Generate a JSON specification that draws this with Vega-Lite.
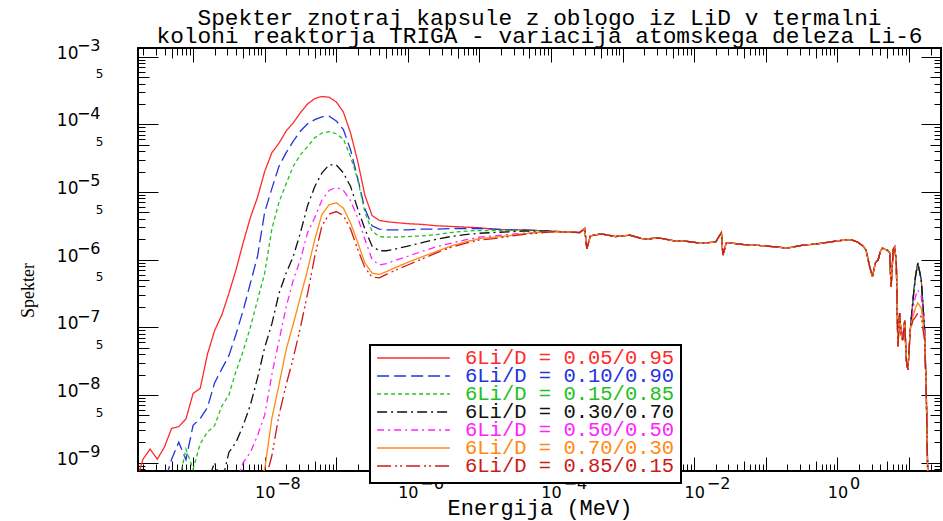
{
"$schema": "https://vega.github.io/schema/vega-lite/v6.json",
"width": 803, "height": 423,
"autosize": {"type": "none"},
"padding": {"left": 138, "top": 48, "right": 2, "bottom": 50},
"background": "white",
"title": {"text": ["Spekter znotraj kapsule z oblogo iz LiD v termalni", "koloni reaktorja TRIGA - variacija atomskega deleza Li-6"], "font": "Liberation Mono", "fontSize": 22.8, "fontWeight": "normal", "lineHeight": 18, "color": "black", "anchor": "middle", "offset": -10},
"config": {"view": {"stroke": "black", "strokeWidth": 2}, "axis": {"grid": false, "domain": false, "labelColor": "black", "tickColor": "black", "tickWidth": 1}},
"resolve": {"axis": {"x": "independent", "y": "independent"}},
"layer": [
{
"data": {"values": [
{"e":1.585e-10,"a":5e-10,"b":5e-10,"c":5e-10,"d":5e-10,"f":5e-10,"g":5e-10,"h":5e-10},
{"e":1.995e-10,"a":1.12e-9,"b":5e-10,"c":5e-10,"d":5e-10,"f":5e-10,"g":5e-10,"h":5e-10},
{"e":2.512e-10,"a":1.58e-9,"b":5e-10,"c":5e-10,"d":5e-10,"f":5e-10,"g":5e-10,"h":5e-10},
{"e":3.162e-10,"a":1.12e-9,"b":5e-10,"c":5e-10,"d":5e-10,"f":5e-10,"g":5e-10,"h":5e-10},
{"e":3.981e-10,"a":1.7e-9,"b":5e-10,"c":5e-10,"d":5e-10,"f":5e-10,"g":5e-10,"h":5e-10},
{"e":5.012e-10,"a":3.2e-9,"b":1.12e-9,"c":5e-10,"d":5e-10,"f":5e-10,"g":5e-10,"h":5e-10},
{"e":6.31e-10,"a":3.4e-9,"b":2e-9,"c":5e-10,"d":5e-10,"f":5e-10,"g":5e-10,"h":5e-10},
{"e":7.943e-10,"a":4.4e-9,"b":1.1e-9,"c":1.58e-9,"d":5e-10,"f":5e-10,"g":5e-10,"h":5e-10},
{"e":1e-9,"a":1.05e-8,"b":3.55e-9,"c":8e-10,"d":5e-10,"f":5e-10,"g":5e-10,"h":5e-10},
{"e":1.259e-9,"a":1.25e-8,"b":4.47e-9,"c":1.9e-9,"d":5e-10,"f":5e-10,"g":5e-10,"h":5e-10},
{"e":1.585e-9,"a":3.98e-8,"b":6.5e-9,"c":2.82e-9,"d":5e-10,"f":5e-10,"g":5e-10,"h":5e-10},
{"e":1.995e-9,"a":8.9e-8,"b":1.5e-8,"c":3.5e-9,"d":1e-9,"f":5e-10,"g":5e-10,"h":5e-10},
{"e":2.512e-9,"a":1.51e-7,"b":2.4e-8,"c":6.8e-9,"d":5e-10,"f":5e-10,"g":5e-10,"h":5e-10},
{"e":3.162e-9,"a":3.16e-7,"b":3.8e-8,"c":1e-8,"d":1.41e-9,"f":5e-10,"g":5e-10,"h":5e-10},
{"e":3.981e-9,"a":7.08e-7,"b":7.94e-8,"c":2.24e-8,"d":2e-9,"f":5e-10,"g":5e-10,"h":5e-10},
{"e":5.012e-9,"a":1.78e-6,"b":1.78e-7,"c":4.47e-8,"d":3.55e-9,"f":1e-9,"g":5e-10,"h":5e-10},
{"e":6.31e-9,"a":4.17e-6,"b":4.47e-7,"c":1e-7,"d":7.08e-9,"f":1.41e-9,"g":5e-10,"h":5e-10},
{"e":7.943e-9,"a":8.32e-6,"b":1.12e-6,"c":2.51e-7,"d":1.78e-8,"f":2.51e-9,"g":5e-10,"h":5e-10},
{"e":1e-8,"a":2e-5,"b":5.01e-6,"c":6.31e-7,"d":5.01e-8,"f":5.01e-9,"g":7.94e-10,"h":5e-10},
{"e":1.259e-8,"a":3.8e-5,"b":1.12e-5,"c":2.82e-6,"d":1.12e-7,"f":2e-8,"g":4.47e-9,"h":1.26e-9},
{"e":1.585e-8,"a":5.25e-5,"b":2.4e-5,"c":7.08e-6,"d":3.16e-7,"f":6.31e-8,"g":1.41e-8,"h":5.01e-9},
{"e":1.995e-8,"a":7.94e-5,"b":3.8e-5,"c":1.32e-5,"d":6.31e-7,"f":2e-7,"g":4.68e-8,"h":1.41e-8},
{"e":2.512e-8,"a":1.05e-4,"b":5.62e-5,"c":2.4e-5,"d":1.12e-6,"f":5.01e-7,"g":1.12e-7,"h":3.55e-8},
{"e":3.162e-8,"a":1.48e-4,"b":7.94e-5,"c":3.55e-5,"d":2.51e-6,"f":1e-6,"g":2.82e-7,"h":1e-7},
{"e":3.981e-8,"a":2e-4,"b":1.02e-4,"c":4.68e-5,"d":6.31e-6,"f":2.51e-6,"g":7.08e-7,"h":3.16e-7},
{"e":5.012e-8,"a":2.4e-4,"b":1.17e-4,"c":6.31e-5,"d":1.2e-5,"f":4.17e-6,"g":2e-6,"h":1.12e-6},
{"e":6.31e-8,"a":2.57e-4,"b":1.29e-4,"c":7.41e-5,"d":1.91e-5,"f":7.59e-6,"g":4.68e-6,"h":3.16e-6},
{"e":7.943e-8,"a":2.51e-4,"b":1.32e-4,"c":7.76e-5,"d":2.51e-5,"f":1.05e-5,"g":6.46e-6,"h":4.68e-6},
{"e":1e-7,"a":2.14e-4,"b":1.12e-4,"c":7.24e-5,"d":2.51e-5,"f":1.17e-5,"g":6.92e-6,"h":5.13e-6},
{"e":1.259e-7,"a":1.51e-4,"b":8.32e-5,"c":6.03e-5,"d":1.91e-5,"f":1.05e-5,"g":5.75e-6,"h":4.47e-6},
{"e":1.585e-7,"a":7.41e-5,"b":4.17e-5,"c":3.31e-5,"d":1.2e-5,"f":7.41e-6,"g":3.47e-6,"h":2.82e-6},
{"e":1.995e-7,"a":2.82e-5,"b":1.58e-5,"c":1.51e-5,"d":5.62e-6,"f":4.17e-6,"g":1.78e-6,"h":1.41e-6},
{"e":2.512e-7,"a":8.91e-6,"b":5.62e-6,"c":5.01e-6,"d":2.82e-6,"f":2e-6,"g":8.91e-7,"h":7.59e-7},
{"e":3.162e-7,"a":4.47e-6,"b":3.16e-6,"c":2.63e-6,"d":1.58e-6,"f":1e-6,"g":6.31e-7,"h":5.5e-7},
{"e":3.981e-7,"a":3.8e-6,"b":2.82e-6,"c":2.19e-6,"d":1.35e-6,"f":8.32e-7,"g":6.03e-7,"h":5.37e-7},
{"e":5.012e-7,"a":3.63e-6,"b":2.75e-6,"c":2.14e-6,"d":1.35e-6,"f":8.71e-7,"g":6.61e-7,"h":6.03e-7},
{"e":6.31e-7,"a":3.55e-6,"b":2.75e-6,"c":2.14e-6,"d":1.41e-6,"f":9.55e-7,"g":7.41e-7,"h":6.76e-7},
{"e":1e-6,"a":3.39e-6,"b":2.75e-6,"c":2.19e-6,"d":1.58e-6,"f":1.12e-6,"g":9.12e-7,"h":8.32e-7},
{"e":1.585e-6,"a":3.31e-6,"b":2.82e-6,"c":2.24e-6,"d":1.78e-6,"f":1.32e-6,"g":1.1e-6,"h":1.02e-6},
{"e":2.512e-6,"a":3.16e-6,"b":2.82e-6,"c":2.34e-6,"d":2e-6,"f":1.55e-6,"g":1.32e-6,"h":1.26e-6},
{"e":3.981e-6,"a":3.09e-6,"b":2.88e-6,"c":2.51e-6,"d":2.19e-6,"f":1.74e-6,"g":1.58e-6,"h":1.51e-6},
{"e":6.31e-6,"a":3.02e-6,"b":2.88e-6,"c":2.63e-6,"d":2.34e-6,"f":1.95e-6,"g":1.82e-6,"h":1.74e-6},
{"e":1e-5,"a":2.95e-6,"b":2.88e-6,"c":2.69e-6,"d":2.45e-6,"f":2.14e-6,"g":2.04e-6,"h":1.95e-6},
{"e":1.585e-5,"a":2.82e-6,"b":2.82e-6,"c":2.69e-6,"d":2.51e-6,"f":2.24e-6,"g":2.14e-6,"h":2.04e-6},
{"e":2.512e-5,"a":2.75e-6,"b":2.75e-6,"c":2.69e-6,"d":2.57e-6,"f":2.34e-6,"g":2.24e-6,"h":2.19e-6},
{"e":3.981e-5,"a":2.75e-6,"b":2.75e-6,"c":2.69e-6,"d":2.63e-6,"f":2.45e-6,"g":2.4e-6,"h":2.34e-6},
{"e":6.31e-5,"a":2.69e-6,"b":2.69e-6,"c":2.69e-6,"d":2.63e-6,"f":2.51e-6,"g":2.51e-6,"h":2.45e-6},
{"e":1e-4,"a":2.63e-6,"b":2.63e-6,"c":2.63e-6,"d":2.63e-6,"f":2.57e-6,"g":2.57e-6,"h":2.57e-6},
{"e":1.585e-4,"a":2.57e-6,"b":2.57e-6,"c":2.57e-6,"d":2.57e-6,"f":2.57e-6,"g":2.57e-6,"h":2.57e-6},
{"e":2.512e-4,"a":2.51e-6,"b":2.51e-6,"c":2.51e-6,"d":2.51e-6,"f":2.51e-6,"g":2.51e-6,"h":2.51e-6},
{"e":2.951e-4,"a":2.88e-6,"b":2.88e-6,"c":2.88e-6,"d":2.88e-6,"f":2.88e-6,"g":2.88e-6,"h":2.88e-6},
{"e":3.162e-4,"a":1.45e-6,"b":1.45e-6,"c":1.45e-6,"d":1.45e-6,"f":1.45e-6,"g":1.45e-6,"h":1.45e-6},
{"e":3.548e-4,"a":2.24e-6,"b":2.24e-6,"c":2.24e-6,"d":2.24e-6,"f":2.24e-6,"g":2.24e-6,"h":2.24e-6},
{"e":5.012e-4,"a":2.4e-6,"b":2.4e-6,"c":2.4e-6,"d":2.4e-6,"f":2.4e-6,"g":2.4e-6,"h":2.4e-6},
{"e":7.943e-4,"a":2.19e-6,"b":2.19e-6,"c":2.19e-6,"d":2.19e-6,"f":2.19e-6,"g":2.19e-6,"h":2.19e-6},
{"e":1.259e-3,"a":2.29e-6,"b":2.29e-6,"c":2.29e-6,"d":2.29e-6,"f":2.29e-6,"g":2.29e-6,"h":2.29e-6},
{"e":1.995e-3,"a":2e-6,"b":2e-6,"c":2e-6,"d":2e-6,"f":2e-6,"g":2e-6,"h":2e-6},
{"e":3.162e-3,"a":2.09e-6,"b":2.09e-6,"c":2.09e-6,"d":2.09e-6,"f":2.09e-6,"g":2.09e-6,"h":2.09e-6},
{"e":5.012e-3,"a":1.91e-6,"b":1.91e-6,"c":1.91e-6,"d":1.91e-6,"f":1.91e-6,"g":1.91e-6,"h":1.91e-6},
{"e":7.943e-3,"a":1.86e-6,"b":1.86e-6,"c":1.86e-6,"d":1.86e-6,"f":1.86e-6,"g":1.86e-6,"h":1.86e-6},
{"e":1.259e-2,"a":1.74e-6,"b":1.74e-6,"c":1.74e-6,"d":1.74e-6,"f":1.74e-6,"g":1.74e-6,"h":1.74e-6},
{"e":1.995e-2,"a":1.82e-6,"b":1.82e-6,"c":1.82e-6,"d":1.82e-6,"f":1.82e-6,"g":1.82e-6,"h":1.82e-6},
{"e":2.399e-2,"a":2.51e-6,"b":2.51e-6,"c":2.51e-6,"d":2.51e-6,"f":2.51e-6,"g":2.51e-6,"h":2.51e-6},
{"e":2.512e-2,"a":1.17e-6,"b":1.17e-6,"c":1.17e-6,"d":1.17e-6,"f":1.17e-6,"g":1.17e-6,"h":1.17e-6},
{"e":2.818e-2,"a":1.78e-6,"b":1.78e-6,"c":1.78e-6,"d":1.78e-6,"f":1.78e-6,"g":1.78e-6,"h":1.78e-6},
{"e":3.548e-2,"a":1.74e-6,"b":1.74e-6,"c":1.74e-6,"d":1.74e-6,"f":1.74e-6,"g":1.74e-6,"h":1.74e-6},
{"e":5.012e-2,"a":1.66e-6,"b":1.66e-6,"c":1.66e-6,"d":1.66e-6,"f":1.66e-6,"g":1.66e-6,"h":1.66e-6},
{"e":7.943e-2,"a":1.62e-6,"b":1.62e-6,"c":1.62e-6,"d":1.62e-6,"f":1.62e-6,"g":1.62e-6,"h":1.62e-6},
{"e":0.1259,"a":1.55e-6,"b":1.55e-6,"c":1.55e-6,"d":1.55e-6,"f":1.55e-6,"g":1.55e-6,"h":1.55e-6},
{"e":0.1995,"a":1.48e-6,"b":1.48e-6,"c":1.48e-6,"d":1.48e-6,"f":1.48e-6,"g":1.48e-6,"h":1.48e-6},
{"e":0.3162,"a":1.62e-6,"b":1.62e-6,"c":1.62e-6,"d":1.62e-6,"f":1.62e-6,"g":1.62e-6,"h":1.62e-6},
{"e":0.5012,"a":1.7e-6,"b":1.7e-6,"c":1.7e-6,"d":1.7e-6,"f":1.7e-6,"g":1.7e-6,"h":1.7e-6},
{"e":0.7943,"a":1.82e-6,"b":1.82e-6,"c":1.82e-6,"d":1.82e-6,"f":1.82e-6,"g":1.82e-6,"h":1.82e-6},
{"e":1.259,"a":1.95e-6,"b":1.95e-6,"c":1.95e-6,"d":1.95e-6,"f":1.95e-6,"g":1.95e-6,"h":1.95e-6},
{"e":1.585,"a":1.95e-6,"b":1.95e-6,"c":1.95e-6,"d":1.95e-6,"f":1.95e-6,"g":1.95e-6,"h":1.95e-6},
{"e":1.905,"a":1.82e-6,"b":1.82e-6,"c":1.82e-6,"d":1.82e-6,"f":1.82e-6,"g":1.82e-6,"h":1.82e-6},
{"e":2.291,"a":1.58e-6,"b":1.58e-6,"c":1.58e-6,"d":1.58e-6,"f":1.58e-6,"g":1.58e-6,"h":1.58e-6},
{"e":2.512,"a":1.38e-6,"b":1.38e-6,"c":1.38e-6,"d":1.38e-6,"f":1.38e-6,"g":1.38e-6,"h":1.38e-6},
{"e":2.818,"a":7.94e-7,"b":7.94e-7,"c":7.94e-7,"d":7.94e-7,"f":7.94e-7,"g":7.94e-7,"h":7.94e-7},
{"e":3.09,"a":5.62e-7,"b":5.62e-7,"c":5.62e-7,"d":5.62e-7,"f":5.62e-7,"g":5.62e-7,"h":5.62e-7},
{"e":3.388,"a":8.91e-7,"b":8.91e-7,"c":8.91e-7,"d":8.91e-7,"f":8.91e-7,"g":8.91e-7,"h":8.91e-7},
{"e":3.715,"a":1e-6,"b":1e-6,"c":1e-6,"d":1e-6,"f":1e-6,"g":1e-6,"h":1e-6},
{"e":3.981,"a":1.32e-6,"b":1.32e-6,"c":1.32e-6,"d":1.32e-6,"f":1.32e-6,"g":1.32e-6,"h":1.32e-6},
{"e":4.266,"a":1.48e-6,"b":1.48e-6,"c":1.48e-6,"d":1.48e-6,"f":1.48e-6,"g":1.48e-6,"h":1.48e-6},
{"e":4.677,"a":1.41e-6,"b":1.41e-6,"c":1.41e-6,"d":1.41e-6,"f":1.41e-6,"g":1.41e-6,"h":1.41e-6},
{"e":5.012,"a":1.38e-6,"b":1.38e-6,"c":1.38e-6,"d":1.38e-6,"f":1.38e-6,"g":1.38e-6,"h":1.38e-6},
{"e":5.37,"a":1.26e-6,"b":1.26e-6,"c":1.26e-6,"d":1.26e-6,"f":1.26e-6,"g":1.26e-6,"h":1.26e-6},
{"e":5.623,"a":3.98e-7,"b":3.98e-7,"c":3.98e-7,"d":3.98e-7,"f":3.98e-7,"g":3.98e-7,"h":3.98e-7},
{"e":6.026,"a":1.41e-6,"b":1.41e-6,"c":1.41e-6,"d":1.41e-6,"f":1.41e-6,"g":1.41e-6,"h":1.41e-6},
{"e":6.31,"a":1.55e-6,"b":1.55e-6,"c":1.55e-6,"d":1.55e-6,"f":1.55e-6,"g":1.55e-6,"h":1.55e-6},
{"e":6.653,"a":8.91e-7,"b":8.91e-7,"c":8.91e-7,"d":8.91e-7,"f":8.91e-7,"g":8.91e-7,"h":8.91e-7},
{"e":7.0,"a":5.13e-8,"b":5.13e-8,"c":5.13e-8,"d":5.13e-8,"f":5.13e-8,"g":5.13e-8,"h":5.13e-8},
{"e":7.396,"a":1.62e-7,"b":1.62e-7,"c":1.62e-7,"d":1.62e-7,"f":1.62e-7,"g":1.62e-7,"h":1.62e-7},
{"e":7.762,"a":7.94e-8,"b":7.94e-8,"c":7.94e-8,"d":7.94e-8,"f":7.94e-8,"g":7.94e-8,"h":7.94e-8},
{"e":8.147,"a":6.46e-8,"b":6.46e-8,"c":6.46e-8,"d":6.46e-8,"f":6.46e-8,"g":6.46e-8,"h":6.46e-8},
{"e":8.71,"a":1.26e-7,"b":1.26e-7,"c":1.26e-7,"d":1.26e-7,"f":1.26e-7,"g":1.26e-7,"h":1.26e-7},
{"e":9.162,"a":3.31e-8,"b":3.31e-8,"c":3.31e-8,"d":3.31e-8,"f":3.31e-8,"g":3.31e-8,"h":3.31e-8},
{"e":9.661,"a":2.34e-8,"b":2.34e-8,"c":2.34e-8,"d":2.34e-8,"f":2.34e-8,"g":2.34e-8,"h":2.34e-8},
{"e":10.42,"a":9.12e-8,"b":9.12e-8,"c":9.12e-8,"d":9.12e-8,"f":9.12e-8,"g":9.12e-8,"h":9.12e-8},
{"e":11.35,"a":2.51e-7,"b":2.51e-7,"c":2.4e-7,"d":2.51e-7,"f":1.78e-7,"g":1.41e-7,"h":1.26e-7},
{"e":12.3,"a":5.62e-7,"b":5.62e-7,"c":5.25e-7,"d":5.62e-7,"f":2.82e-7,"g":1.91e-7,"h":1.41e-7},
{"e":13.3,"a":8.91e-7,"b":8.91e-7,"c":8.51e-7,"d":8.91e-7,"f":3.55e-7,"g":2.29e-7,"h":1.62e-7},
{"e":14.86,"a":5.01e-7,"b":5.01e-7,"c":4.79e-7,"d":5.01e-7,"f":2.82e-7,"g":1.91e-7,"h":1.41e-7},
{"e":16.52,"a":9.12e-8,"b":9.12e-8,"c":8.91e-8,"d":9.12e-8,"f":7.94e-8,"g":7.08e-8,"h":6.31e-8},
{"e":17.46,"a":1e-8,"b":1e-8,"c":1e-8,"d":1e-8,"f":1e-8,"g":1e-8,"h":1e-8},
{"e":18.37,"a":5e-10,"b":5e-10,"c":5e-10,"d":5e-10,"f":5e-10,"g":5e-10,"h":5e-10}
]},
"transform": [{"fold": ["a","b","c","d","f","g","h"], "as": ["k","v"]}],
"mark": {"type": "line", "clip": true},
"encoding": {
"x": {"field": "e", "type": "quantitative", "scale": {"type": "log", "domain": [1.7e-10, 28], "nice": false},
 "axis": {"orient": "bottom", "values": [1e-8, 1e-6, 1e-4, 1e-2, 1], "labelExpr": "'10'", "labelFont": "DejaVu Sans", "labelFontSize": 16, "labelAlign": "center", "labelBaseline": "middle", "labelPadding": 21, "ticks": false, "tickSize": 0, "labelOverlap": false, "labelFlush": false,
  "title": "Energija (MeV)", "titleFont": "Liberation Mono", "titleFontSize": 22, "titleFontWeight": "normal", "titleColor": "black", "titleY": 43, "titleBaseline": "alphabetic"}},
"y": {"field": "v", "type": "quantitative", "scale": {"type": "log", "domain": [7.5e-10, 1.34e-3], "nice": false},
 "axis": {"orient": "left", "values": [1e-9, 1e-8, 1e-7, 1e-6, 1e-5, 1e-4, 1e-3], "labelExpr": "'10'", "labelFont": "DejaVu Sans", "labelFontSize": 17, "labelAlign": "right", "labelBaseline": "middle", "labelPadding": 60, "labelOffset": -3.5, "ticks": false, "tickSize": 0, "labelOverlap": false, "labelFlush": false,
  "title": "Spekter", "titleFont": "Liberation Serif", "titleFontSize": 18, "titleFontWeight": "normal", "titleColor": "black", "titleX": -110, "titleY": 242, "titleAngle": -90, "titleAlign": "center", "titleBaseline": "middle"}},
"color": {"field": "k", "type": "nominal",
 "scale": {"domain": ["a","b","c","d","f","g","h"], "range": ["#ff2a2a", "#2233dd", "#22c022", "#111111", "#ff22ff", "#ff8a10", "#cc1a1a"]},
 "legend": {"title": null, "orient": "none", "legendX": 232, "legendY": 297, "padding": 6, "strokeColor": "black", "fillColor": "white", "cornerRadius": 0, "symbolType": "stroke", "symbolSize": 5300, "symbolStrokeWidth": 1.5, "clipHeight": 14, "rowPadding": -10, "labelFont": "Liberation Mono", "labelFontSize": 20.5, "labelOffset": 14, "labelLimit": 400,
  "labelExpr": "datum.label == 'a' ? '6Li/D = 0.05/0.95' : datum.label == 'b' ? '6Li/D = 0.10/0.90' : datum.label == 'c' ? '6Li/D = 0.15/0.85' : datum.label == 'd' ? '6Li/D = 0.30/0.70' : datum.label == 'f' ? '6Li/D = 0.50/0.50' : datum.label == 'g' ? '6Li/D = 0.70/0.30' : '6Li/D = 0.85/0.15'",
  "encode": {"legend": {"update": {"strokeWidth": {"value": 2}}}, "labels": {"update": {"fill": {"scale": "color", "field": "value"}}}}}},
"strokeDash": {"field": "k", "type": "nominal",
 "scale": {"domain": ["a","b","c","d","f","g","h"], "range": [[1,0], [12,5], [4,3], [10,4,2,4], [7,4,2,4], [1,0], [14,4,2,3,2,4]]},
 "legend": {"title": null, "orient": "none", "legendX": 232, "legendY": 297, "padding": 6, "strokeColor": "black", "fillColor": "white", "cornerRadius": 0, "symbolType": "stroke", "symbolSize": 5300, "symbolStrokeWidth": 1.5, "clipHeight": 14, "rowPadding": -10, "labelFont": "Liberation Mono", "labelFontSize": 20.5, "labelOffset": 14, "labelLimit": 400,
  "labelExpr": "datum.label == 'a' ? '6Li/D = 0.05/0.95' : datum.label == 'b' ? '6Li/D = 0.10/0.90' : datum.label == 'c' ? '6Li/D = 0.15/0.85' : datum.label == 'd' ? '6Li/D = 0.30/0.70' : datum.label == 'f' ? '6Li/D = 0.50/0.50' : datum.label == 'g' ? '6Li/D = 0.70/0.30' : '6Li/D = 0.85/0.15'",
  "encode": {"legend": {"update": {"strokeWidth": {"value": 2}}}, "labels": {"update": {"fill": {"scale": "color", "field": "value"}}}}}},
"strokeWidth": {"field": "k", "type": "ordinal", "scale": {"domain": ["a","b","c","d","f","g","h"], "range": [1.3, 1.3, 1.3, 1.3, 1.3, 2.2, 1.3]}, "legend": null}
}
},
{
"data": {"values": [{"e": 1e-6, "v": 1e-6}]},
"mark": {"type": "point", "opacity": 0},
"encoding": {
"x": {"field": "e", "type": "quantitative", "scale": {"type": "log"},
 "axis": {"orient": "bottom", "values": [1e-8, 1e-6, 1e-4, 1e-2, 1], "labelExpr": "datum.value >= 0.5 ? '0' : '−' + (-round(log(datum.value)/LN10))", "labelFont": "DejaVu Sans", "labelFontSize": 16, "labelAlign": "left", "labelBaseline": "middle", "labelPadding": 12, "labelOffset": 12, "ticks": false, "tickSize": 0, "labelOverlap": false, "labelFlush": false, "title": null}},
"y": {"field": "v", "type": "quantitative", "scale": {"type": "log"},
 "axis": {"orient": "left", "values": [1e-9, 1e-8, 1e-7, 1e-6, 1e-5, 1e-4, 1e-3], "labelExpr": "'−' + (-round(log(datum.value)/LN10))", "labelFont": "DejaVu Sans", "labelFontSize": 16, "labelAlign": "right", "labelBaseline": "middle", "labelPadding": 38, "labelOffset": -11, "ticks": false, "tickSize": 0, "labelOverlap": false, "labelFlush": false, "title": null}}
}
},
{
"data": {"values": [{"e": 1e-6, "v": 1e-6}]},
"mark": {"type": "point", "opacity": 0},
"encoding": {
"x": {"field": "e", "type": "quantitative", "scale": {"type": "log"},
 "axis": {"orient": "bottom", "values": [2e-10,3e-10,4e-10,5e-10,6e-10,7e-10,8e-10,9e-10,1e-9,2e-9,3e-9,4e-9,5e-9,6e-9,7e-9,8e-9,9e-9,1e-8,2e-8,3e-8,4e-8,5e-8,6e-8,7e-8,8e-8,9e-8,1e-7,2e-7,3e-7,4e-7,5e-7,6e-7,7e-7,8e-7,9e-7,1e-6,2e-6,3e-6,4e-6,5e-6,6e-6,7e-6,8e-6,9e-6,1e-5,2e-5,3e-5,4e-5,5e-5,6e-5,7e-5,8e-5,9e-5,1e-4,2e-4,3e-4,4e-4,5e-4,6e-4,7e-4,8e-4,9e-4,1e-3,2e-3,3e-3,4e-3,5e-3,6e-3,7e-3,8e-3,9e-3,1e-2,2e-2,3e-2,4e-2,5e-2,6e-2,7e-2,8e-2,9e-2,0.1,0.2,0.3,0.4,0.5,0.6,0.7,0.8,0.9,1,2,3,4,5,6,7,8,9,10,20],
  "labels": false, "ticks": true,
  "tickSize": {"condition": [{"test": "abs(log(datum.value)/LN10 - round(log(datum.value)/LN10)) < 0.01", "value": -14}, {"test": "abs(log(datum.value)/LN10 - floor(log(datum.value)/LN10) - 0.699) < 0.01", "value": -10}], "value": -7},
  "title": null}},
"y": {"field": "v", "type": "quantitative", "scale": {"type": "log"},
 "axis": {"orient": "left", "values": [5e-9, 5e-8, 5e-7, 5e-6, 5e-5, 5e-4], "labelExpr": "'5'", "labelFont": "DejaVu Sans", "labelFontSize": 12, "labelAlign": "right", "labelBaseline": "middle", "labelPadding": 35, "labelOffset": -3, "ticks": false, "tickSize": 0, "labelOverlap": false, "labelFlush": false, "title": null}}
}
},
{
"data": {"values": [{"e": 1e-6, "v": 1e-6}]},
"mark": {"type": "point", "opacity": 0},
"encoding": {
"x": {"field": "e", "type": "quantitative", "scale": {"type": "log"},
 "axis": {"orient": "top", "values": [2e-10,3e-10,4e-10,5e-10,6e-10,7e-10,8e-10,9e-10,1e-9,2e-9,3e-9,4e-9,5e-9,6e-9,7e-9,8e-9,9e-9,1e-8,2e-8,3e-8,4e-8,5e-8,6e-8,7e-8,8e-8,9e-8,1e-7,2e-7,3e-7,4e-7,5e-7,6e-7,7e-7,8e-7,9e-7,1e-6,2e-6,3e-6,4e-6,5e-6,6e-6,7e-6,8e-6,9e-6,1e-5,2e-5,3e-5,4e-5,5e-5,6e-5,7e-5,8e-5,9e-5,1e-4,2e-4,3e-4,4e-4,5e-4,6e-4,7e-4,8e-4,9e-4,1e-3,2e-3,3e-3,4e-3,5e-3,6e-3,7e-3,8e-3,9e-3,1e-2,2e-2,3e-2,4e-2,5e-2,6e-2,7e-2,8e-2,9e-2,0.1,0.2,0.3,0.4,0.5,0.6,0.7,0.8,0.9,1,2,3,4,5,6,7,8,9,10,20],
  "labels": false, "ticks": true,
  "tickSize": {"condition": [{"test": "abs(log(datum.value)/LN10 - round(log(datum.value)/LN10)) < 0.01", "value": -14}, {"test": "abs(log(datum.value)/LN10 - floor(log(datum.value)/LN10) - 0.699) < 0.01", "value": -10}], "value": -7},
  "title": null}},
"y": {"field": "v", "type": "quantitative", "scale": {"type": "log"},
 "axis": {"orient": "left", "values": [8e-10,9e-10,1e-9,2e-9,3e-9,4e-9,5e-9,6e-9,7e-9,8e-9,9e-9,1e-8,2e-8,3e-8,4e-8,5e-8,6e-8,7e-8,8e-8,9e-8,1e-7,2e-7,3e-7,4e-7,5e-7,6e-7,7e-7,8e-7,9e-7,1e-6,2e-6,3e-6,4e-6,5e-6,6e-6,7e-6,8e-6,9e-6,1e-5,2e-5,3e-5,4e-5,5e-5,6e-5,7e-5,8e-5,9e-5,1e-4,2e-4,3e-4,4e-4,5e-4,6e-4,7e-4,8e-4,9e-4,1e-3],
  "labels": false, "ticks": true,
  "tickSize": {"condition": [{"test": "abs(log(datum.value)/LN10 - round(log(datum.value)/LN10)) < 0.01", "value": -20}, {"test": "abs(log(datum.value)/LN10 - floor(log(datum.value)/LN10) - 0.699) < 0.01", "value": -11}], "value": -7},
  "title": null}}
}
},
{
"data": {"values": [{"e": 1e-6, "v": 1e-6}]},
"mark": {"type": "point", "opacity": 0},
"encoding": {
"x": {"field": "e", "type": "quantitative", "scale": {"type": "log"}, "axis": null},
"y": {"field": "v", "type": "quantitative", "scale": {"type": "log"},
 "axis": {"orient": "right", "values": [8e-10,9e-10,1e-9,2e-9,3e-9,4e-9,5e-9,6e-9,7e-9,8e-9,9e-9,1e-8,2e-8,3e-8,4e-8,5e-8,6e-8,7e-8,8e-8,9e-8,1e-7,2e-7,3e-7,4e-7,5e-7,6e-7,7e-7,8e-7,9e-7,1e-6,2e-6,3e-6,4e-6,5e-6,6e-6,7e-6,8e-6,9e-6,1e-5,2e-5,3e-5,4e-5,5e-5,6e-5,7e-5,8e-5,9e-5,1e-4,2e-4,3e-4,4e-4,5e-4,6e-4,7e-4,8e-4,9e-4,1e-3],
  "labels": false, "ticks": true,
  "tickSize": {"condition": [{"test": "abs(log(datum.value)/LN10 - round(log(datum.value)/LN10)) < 0.01", "value": -20}, {"test": "abs(log(datum.value)/LN10 - floor(log(datum.value)/LN10) - 0.699) < 0.01", "value": -11}], "value": -7},
  "title": null}}
}
}
]
}
